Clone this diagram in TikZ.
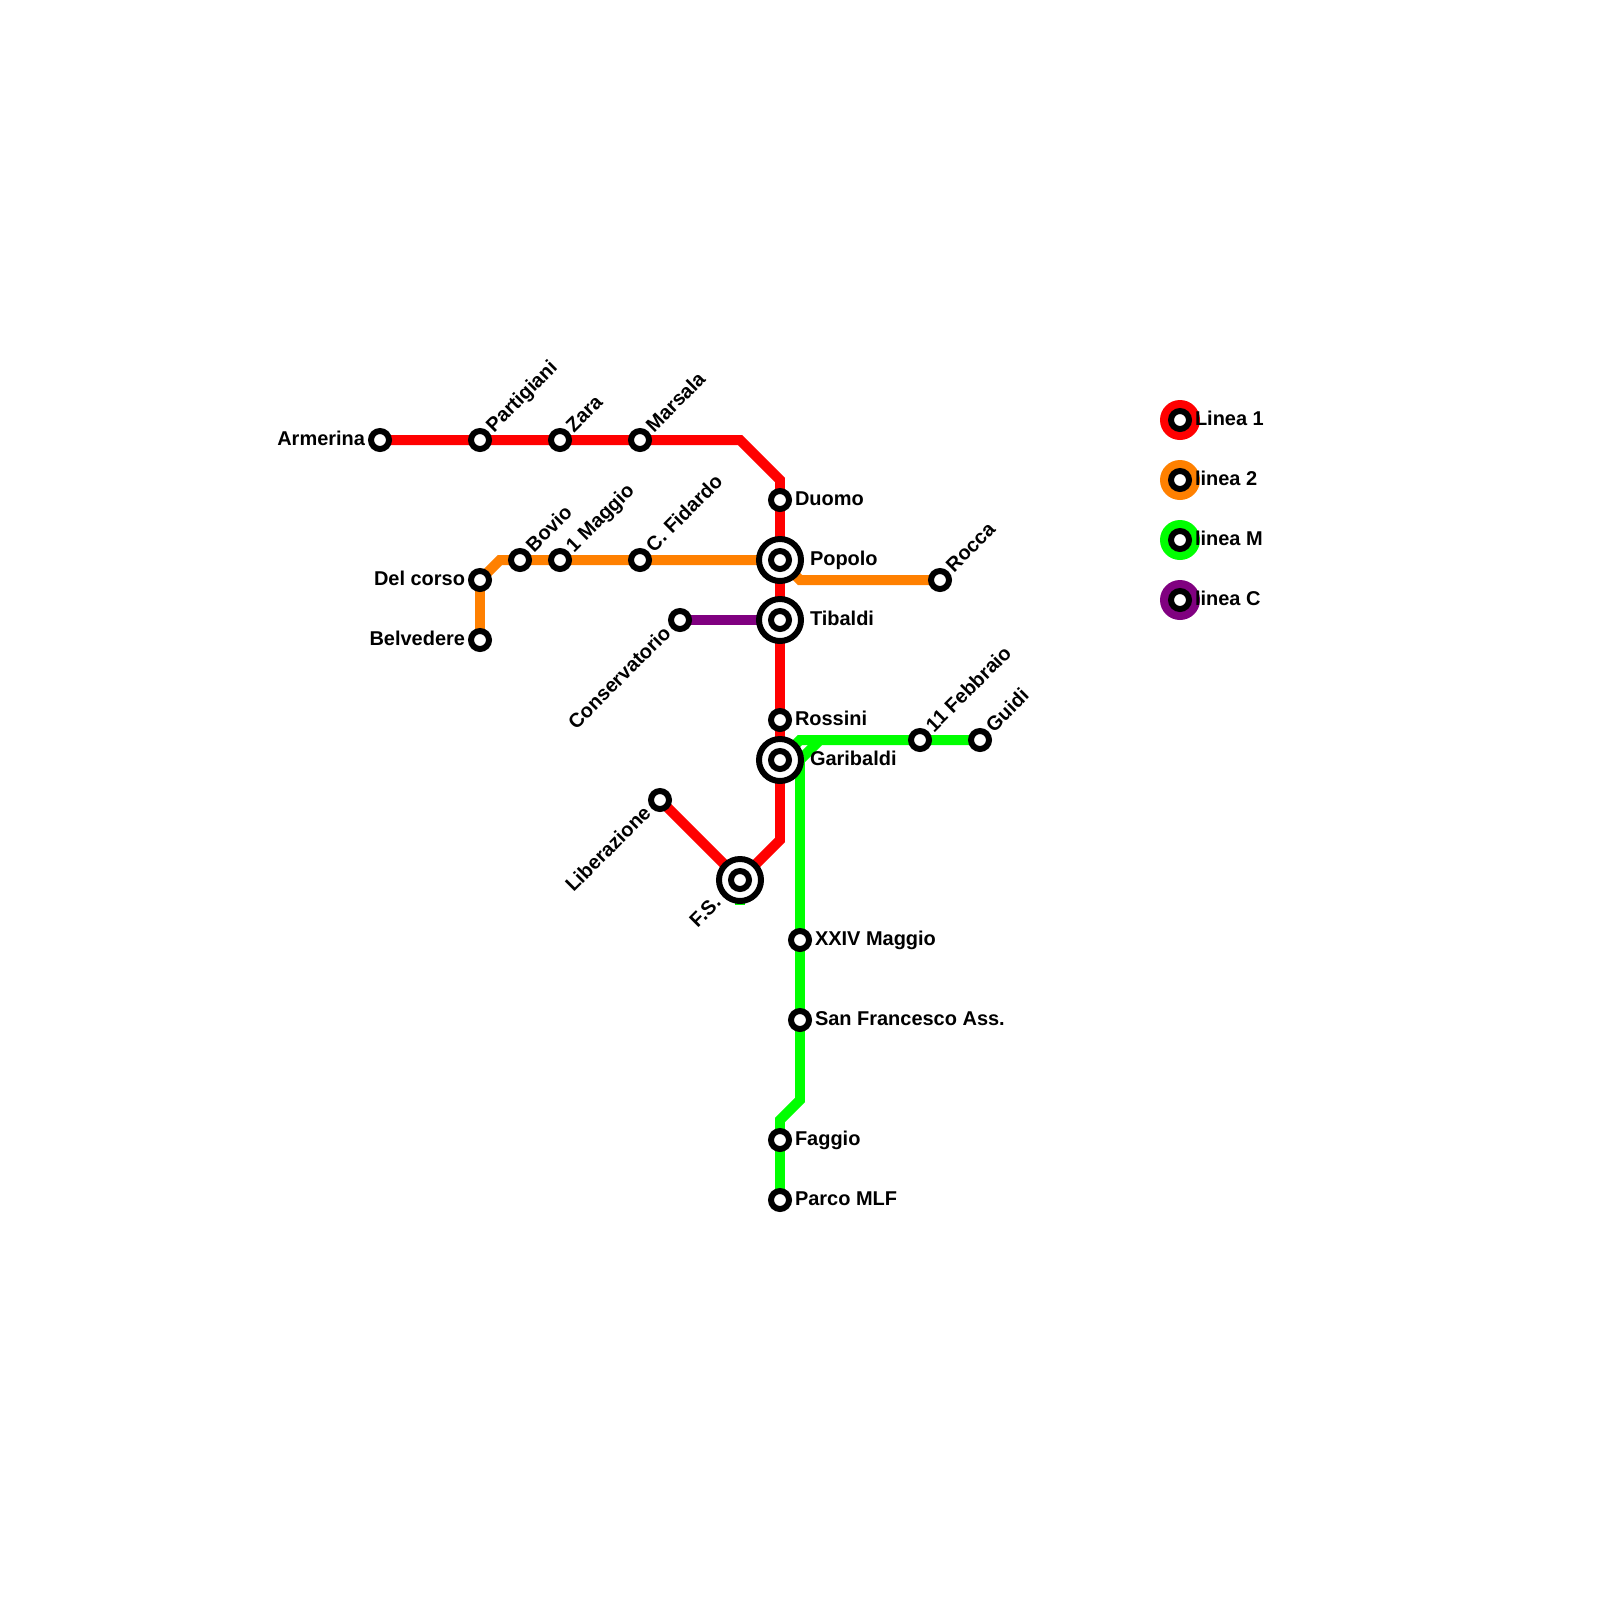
\documentclass[tikz,border=0pt]{standalone}
\usepackage{xcolor}
\usepackage{fontspec}
\setmainfont{Liberation Sans}
\usetikzlibrary{backgrounds}
\definecolor{LineOne}{HTML}{FF0000}
\definecolor{LineTwo}{HTML}{FF8000}
\definecolor{LineM}{HTML}{00FF00}
\definecolor{LineC}{HTML}{800080}
\tikzset{
  stop/.style={circle,draw=black,fill=white,line width=4.25pt,inner sep=0pt,outer sep=0pt,minimum size=0.45cm},
  hub/.style={circle,draw=black,fill=white,line width=4.25pt,inner sep=0pt,outer sep=0pt,minimum size=1.05cm},
  legdot/.style={circle,inner sep=0pt,outer sep=0pt,minimum size=1cm},
  stname/.style={font=\fontsize{14.2}{16}\selectfont\bfseries,inner sep=0pt,outer sep=0pt},
  route/.style={line width=7.1pt}
}
\begin{document}
\begin{tikzpicture}[x=0.025cm,y=-0.025cm]
  \useasboundingbox (0,0) rectangle (1600,1600);
  \foreach \nm/\x/\y/\lab in {
    Duomo/780/500/Duomo,
    Rossini/780/720/Rossini,
    Maggio/800/940/XXIV Maggio,
    Francesco/800/1020/San Francesco Ass.,
    Faggio/780/1140/Faggio,
    Parco/780/1200/Parco MLF} {
    \node[stop] (\nm) at (\x,\y) {};
    \node[stname,anchor=base west] (\nm-lab) at ({\x+15},{\y+5}) {\lab};
  }
  \foreach \nm/\x/\y/\lab in {
    Armerina/380/440/Armerina,
    DelCorso/480/580/Del corso,
    Belvedere/480/640/Belvedere} {
    \node[stop] (\nm) at (\x,\y) {};
    \node[stname,anchor=base east] (\nm-lab) at ({\x-15},{\y+5}) {\lab};
  }
  \foreach \nm/\x/\y/\lab in {
    Partigiani/480/440/Partigiani,
    Zara/560/440/Zara,
    Marsala/640/440/Marsala,
    Bovio/520/560/Bovio,
    Primo/560/560/1 Maggio,
    Fidardo/640/560/C. Fidardo,
    Rocca/940/580/Rocca,
    Febbraio/920/740/11 Febbraio,
    Guidi/980/740/Guidi} {
    \node[stop] (\nm) at (\x,\y) {};
    \node[stname,anchor=base west,rotate=45] (\nm-lab) at ({\x+14},{\y-7}) {\lab};
  }
  \foreach \nm/\x/\y/\lab in {
    Conservatorio/680/620/Conservatorio,
    Liberazione/660/800/Liberazione} {
    \node[stop] (\nm) at (\x,\y) {};
    \node[stname,anchor=base east,rotate=45] (\nm-lab) at ({\x-8},{\y+14.5}) {\lab};
  }
  \foreach \nm/\x/\y/\lab in {
    Popolo/780/560/Popolo,
    Tibaldi/780/620/Tibaldi,
    Garibaldi/780/760/Garibaldi} {
    \node[hub] (\nm) at (\x,\y) {};
    \node[stop] (\nm-in) at (\x,\y) {};
    \node[stname,anchor=base west] (\nm-lab) at ({\x+30},{\y+5}) {\lab};
  }
  \node[hub] (FS) at (740,880) {};
  \node[stop] (FS-in) at (740,880) {};
  \node[stname,anchor=base east,rotate=45] (FS-lab) at (722,904) {F.S.};
  \foreach \nm/\y/\col/\lab in {
    One/420/LineOne/Linea 1,
    Two/480/LineTwo/linea 2,
    Em/540/LineM/linea M,
    Ce/600/LineC/linea C} {
    \node[legdot,fill=\col] (leg\nm) at (1180,\y) {};
    \node[stop] (leg\nm-in) at (1180,\y) {};
    \node[stname,anchor=base west] (leg\nm-lab) at (1195,{\y+5}) {\lab};
  }
  \coordinate (RedA) at (740,440);
  \coordinate (RedB) at (780,480);
  \coordinate (RedC) at (780,840);
  \coordinate (OrgA) at (500,560);
  \coordinate (OrgB) at (800,580);
  \coordinate (GrnA) at (820,740);
  \coordinate (GrnB) at (800,760);
  \coordinate (GrnC) at (800,740);
  \coordinate (GrnD) at (800,1100);
  \coordinate (GrnE) at (780,1120);
  \coordinate (GrnTip) at (740,905);
  \begin{scope}[on background layer]
    \draw[route,LineOne] (Armerina.center) -- (Partigiani.center) -- (Zara.center) -- (Marsala.center) -- (RedA) -- (RedB) -- (Duomo.center) -- (Popolo.center) -- (Tibaldi.center) -- (Rossini.center) -- (Garibaldi.center) -- (RedC) -- (FS.center) -- (Liberazione.center);
    \draw[route,LineTwo] (Belvedere.center) -- (DelCorso.center) -- (OrgA) -- (Bovio.center) -- (Primo.center) -- (Fidardo.center) -- (Popolo.center) -- (OrgB) -- (Rocca.center);
    \draw[route,LineC] (Conservatorio.center) -- (Tibaldi.center);
    \draw[route,LineM] (Guidi.center) -- (Febbraio.center) -- (GrnA) -- (GrnB) -- (Maggio.center) -- (Francesco.center) -- (GrnD) -- (GrnE) -- (Faggio.center) -- (Parco.center);
    \draw[route,LineM] (Garibaldi.center) -- (GrnC) -- (GrnA);
    \draw[route,LineM] (FS.center) -- (GrnTip);
  \end{scope}
\end{tikzpicture}
\end{document}
